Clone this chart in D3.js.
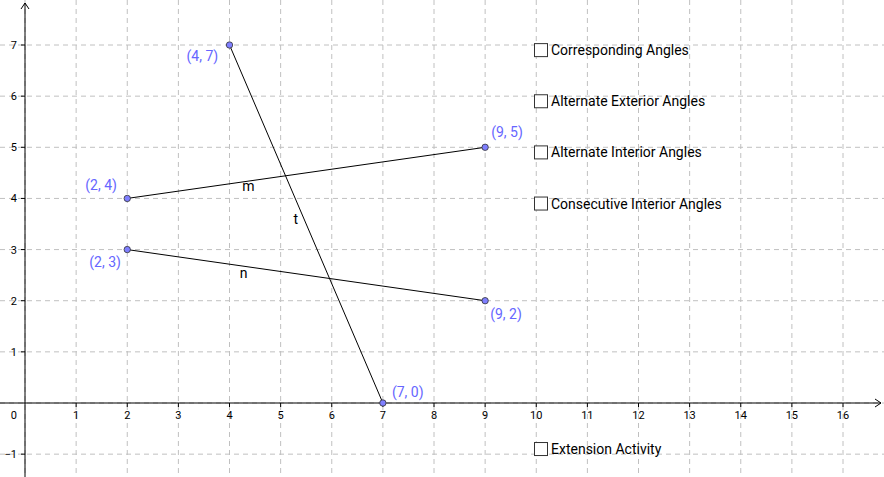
<!DOCTYPE html>
<html><head><meta charset="utf-8">
<script src="https://cdn.jsdelivr.net/npm/d3@7"></script>
<style>body{margin:0;background:#fff}svg{display:block;font-family:Roboto,sans-serif}</style>
</head><body><svg id="c" width="884" height="477"></svg>
<script>
const xTicks=[1,2,3,4,5,6,7,8,9,10,11,12,13,14,15,16];
const yTicks=[-1,1,2,3,4,5,6,7];
const points=[{n:"(4, 7)",x:4,y:7,dx:-43,dy:16},{n:"(7, 0)",x:7,y:0,dx:9,dy:-6},{n:"(2, 4)",x:2,y:4,dx:-42,dy:-8},{n:"(9, 5)",x:9,y:5,dx:6,dy:-10},{n:"(2, 3)",x:2,y:3,dx:-38,dy:17},{n:"(9, 2)",x:9,y:2,dx:5,dy:18}];
const segments=[[4,7,7,0],[2,4,9,5],[2,3,9,2]];
const segLabels=[{t:"m",x:4.25,y:4.15},{t:"t",x:5.25,y:3.5},{t:"n",x:4.2,y:2.45}];
const checks=[{t:"Corresponding Angles",y:6.9},{t:"Alternate Exterior Angles",y:5.9},{t:"Alternate Interior Angles",y:4.9},{t:"Consecutive Interior Angles",y:3.9},{t:"Extension Activity",y:-0.9}];
const W=884,H=477;
const x=d3.scaleLinear().domain([0,16]).range([25,843]);
const y=d3.scaleLinear().domain([0,7]).range([403,45]);
const svg=d3.select("#c");
const g=svg.append("g");
const gx=d3.range(-1,18),gy=d3.range(-2,9);
g.selectAll(".vx").data(gx).join("line").attr("x1",d=>x(d)).attr("x2",d=>x(d)).attr("y1",0).attr("y2",H).attr("stroke","#c0c0c0").attr("stroke-dasharray","5,4");
g.selectAll(".hy").data(gy).join("line").attr("y1",d=>y(d)).attr("y2",d=>y(d)).attr("x1",0).attr("x2",W).attr("stroke","#c0c0c0").attr("stroke-dasharray","5,4");
// axes
g.append("line").attr("x1",0).attr("x2",W-3).attr("y1",y(0)).attr("y2",y(0)).attr("stroke","#000");
g.append("path").attr("d",`M${W-9},${y(0)-4}L${W-3},${y(0)}L${W-9},${y(0)+4}`).attr("fill","none").attr("stroke","#000");
g.append("line").attr("x1",x(0)).attr("x2",x(0)).attr("y1",3).attr("y2",H).attr("stroke","#000");
g.append("path").attr("d",`M${x(0)-4},9L${x(0)},3L${x(0)+4},9`).attr("fill","none").attr("stroke","#000");
g.selectAll(".xt").data(xTicks).join("line").attr("x1",d=>x(d)).attr("x2",d=>x(d)).attr("y1",y(0)).attr("y2",y(0)+4).attr("stroke","#000");
g.selectAll(".yt").data(yTicks).join("line").attr("y1",d=>y(d)).attr("y2",d=>y(d)).attr("x1",x(0)-4).attr("x2",x(0)).attr("stroke","#000");
g.selectAll(".xl").data(xTicks).join("text").attr("x",d=>x(d)).attr("y",y(0)+16).attr("text-anchor","middle").attr("font-size",11).text(d=>d);
g.selectAll(".yl").data(yTicks).join("text").attr("x",x(0)-8).attr("y",d=>y(d)+4).attr("text-anchor","end").attr("font-size",11).text(d=>d<0?"\u22121":d);
g.append("text").attr("x",x(0)-8).attr("y",y(0)+16).attr("text-anchor","end").attr("font-size",11).text("0");
// segments
g.selectAll(".sg").data(segments).join("line").attr("x1",d=>x(d[0])).attr("y1",d=>y(d[1])).attr("x2",d=>x(d[2])).attr("y2",d=>y(d[3])).attr("stroke","#000").attr("stroke-width",1);
g.selectAll(".sl").data(segLabels).join("text").attr("x",d=>x(d.x)).attr("y",d=>y(d.y)).attr("font-size",14).text(d=>d.t);
g.selectAll(".pt").data(points).join("circle").attr("cx",d=>x(d.x)).attr("cy",d=>y(d.y)).attr("r",3.2).attr("fill","#7f7fff").attr("stroke","#333").attr("stroke-width",0.8);
g.selectAll(".pl").data(points).join("text").attr("x",d=>x(d.x)+d.dx).attr("y",d=>y(d.y)+d.dy).attr("font-size",14).attr("fill","#6666ff").text(d=>d.n);
// checkboxes
const cb=g.selectAll(".cb").data(checks).join("g").attr("transform",d=>`translate(534,${y(d.y)})`);
cb.append("rect").attr("x",0.5).attr("y",-6.5).attr("width",13).attr("height",13).attr("fill","#fff").attr("stroke","#333");
cb.append("text").attr("x",17).attr("y",5).attr("font-size",14).text(d=>d.t);
</script></body></html>
